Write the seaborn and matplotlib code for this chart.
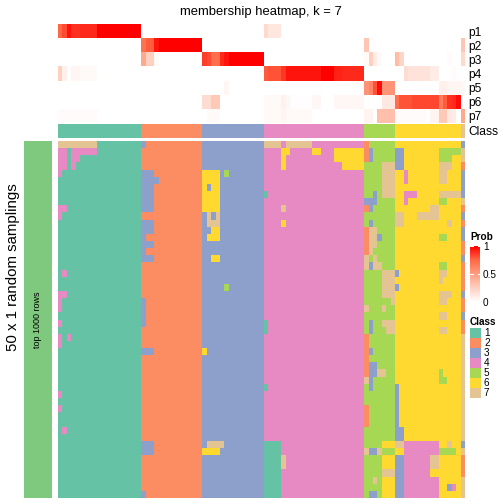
import numpy as np
import pandas as pd
import seaborn as sns
import matplotlib.pyplot as plt
from matplotlib.colors import ListedColormap, LinearSegmentedColormap
from matplotlib.patches import Rectangle

plt.rcParams["font.family"] = ["Liberation Sans", "DejaVu Sans"]

# class legend
class_names = ["1", "2", "3", "4", "5", "6", "7"]
class_colors = ["#66C2A5", "#FC8D62", "#8DA0CB", "#E78AC3", "#A6D854", "#FFD92F", "#E5C494"]

# membership probabilities, one value per sample (93 samples)
prob_rows = ["p1", "p2", "p3", "p4", "p5", "p6", "p7"]
p1 = [.75, .82, .95, .88, .88, .9, .9, .9, .9, 1, 1, 1, 1, 1, 1, 1, 1, 1, 1,
      0, 0, 0, 0, 0, 0, 0, 0, 0, 0, 0, 0, 0, 0,
      0, 0, 0, 0, 0, 0, 0, 0, 0, 0, 0, 0, 0, 0,
      .2, .13, .13, .13, 0, 0, 0, 0, 0, 0, 0, 0, 0, 0, 0, 0, 0, 0, 0, 0, 0, 0, 0,
      0, 0, 0, 0, 0, 0, 0,
      0, 0, 0, 0, 0, 0, 0, 0, 0, 0, 0, 0, 0, 0, 0,
      0]
p2 = [0, 0, 0, 0, 0, 0, 0, 0, 0, 0, 0, 0, 0, 0, 0, 0, 0, 0, 0,
      .7, .78, .78, .95, 1, 1, 1, 1, 1, 1, 1, 1, 1, 1,
      0, 0, 0, 0, 0, 0, 0, 0, 0, 0, 0, 0, 0, 0,
      0, 0, 0, 0, 0, 0, 0, 0, 0, 0, 0, 0, 0, 0, 0, 0, 0, 0, 0, 0, 0, 0, 0,
      .3, 0, 0, 0, 0, 0, 0,
      0, 0, 0, 0, 0, 0, 0, 0, 0, 0, 0, 0, 0, 0, 0,
      .3]
p3 = [0, 0, 0, 0, 0, 0, 0, 0, 0, 0, 0, 0, 0, 0, 0, 0, 0, 0, 0,
      .45, .25, .25, .03, 0, 0, 0, 0, 0, 0, 0, 0, 0, 0,
      .85, .82, .72, .72, .9, .95, 1, 1, 1, 1, 1, 1, 1, 1,
      0, 0, 0, 0, 0, 0, 0, 0, 0, 0, 0, 0, 0, 0, 0, 0, 0, 0, 0, 0, 0, 0, 0,
      .03, .25, .1, .03, 0, 0, 0,
      .35, .22, 0, 0, 0, 0, 0, 0, 0, 0, 0, 0, .02, 0, 0,
      .2]
p4 = [.25, .08, 0, .05, .05, .03, .03, .03, .03, 0, 0, 0, 0, 0, 0, 0, 0, 0, 0,
      0, 0, 0, 0, 0, 0, 0, 0, 0, 0, 0, 0, 0, 0,
      0, 0, 0, 0, 0, 0, 0, 0, 0, 0, 0, 0, 0, 0,
      .78, .8, .8, .8, .87, .95, .95, .95, .95, .95, .95, .95, .95, 1, 1, 1, .92, .92, .9, .9, .9, .9, .9,
      0, 0, 0, 0, 0, 0, 0,
      0, 0, .18, .15, .15, .15, .15, .15, .1, .1, 0, 0, 0, .02, 0,
      0]
p5 = [0, 0, 0, 0, 0, 0, 0, 0, 0, 0, 0, 0, 0, 0, 0, 0, 0, 0, 0,
      0, 0, 0, 0, 0, 0, 0, 0, 0, 0, 0, 0, 0, 0,
      0, 0, 0, 0, 0, .05, 0, 0, 0, 0, 0, 0, 0, 0,
      0, 0, 0, 0, 0, 0, 0, 0, 0, 0, 0, 0, 0, 0, 0, 0, 0, 0, 0, 0, 0, 0, 0,
      .55, .6, .8, .97, .55, .55, .55,
      0, 0, 0, 0, 0, 0, 0, 0, 0, 0, .08, .08, .05, .05, .05,
      .03]
p6 = [0, 0, 0, 0, 0, 0, 0, 0, 0, 0, 0, 0, 0, 0, 0, 0, 0, 0, 0,
      0, 0, 0, 0, 0, 0, 0, 0, 0, 0, 0, 0, 0, 0,
      .18, .18, .28, .28, 0, 0, 0, 0, 0, 0, 0, 0, 0, 0,
      .03, .03, .03, .03, .07, .04, .01, .01, .01, .01, .01, .04, .04, 0, 0, 0, .04, .04, .04, .04, .04, .04, .04,
      0, 0, 0, 0, .12, .12, .12,
      .72, .8, .8, .8, .83, .83, .83, .83, .83, .83, .65, .78, .88, .9, .97,
      0]
p7 = [.02, .02, .02, .02, .02, .02, .02, .02, .02, 0, 0, 0, 0, 0, 0, 0, 0, 0, 0,
      0, 0, 0, 0, 0, 0, 0, 0, 0, 0, 0, 0, 0, 0,
      0, .03, .03, .03, 0, 0, 0, 0, 0, 0, 0, 0, 0, 0,
      .03, .03, .03, .03, .05, .03, .03, .03, .03, .03, .03, 0, 0, 0, 0, 0, 0, 0, 0, 0, 0, 0, 0,
      .06, .06, 0, .33, .33, .33, .33,
      .02, .02, .02, .02, .02, .02, .02, 0, .06, .06, .28, .28, .12, .1, 0,
      .45]

# predicted class of every sample
col_class = ("1111111111111111111" "22222222222222" "33333333333333"
             "44444444444444444444444" "5555555" "666666666666666" "7")

# class label of every sample in each of the 50 random samplings
samplings = [
    "7777777771111111111 32222222222222 33333333333333 77774777777444444444444 2555555 666666666666666 3",
    "4414444441111111111 22222222222222 33333333333333 44446644444664446666666 2355555 336666666655555 7",
    "4414411111111111111 22222222222222 33333333333333 44446444444444446666666 2355555 336666666655566 7",
    "4414111111111111111 22222222222222 33333333333333 44446444444444444466666 5555777 336666666677766 2",
    "4111111111111111111 33322222222222 66663533333333 44444444444444444444444 5555777 664666666677666 3",
    "1111111111111111111 33332222222222 66663333333333 44444444444444444444444 5555777 664666666677666 3",
    "1111111111111111111 33322222222222 63663333333333 44444444444444444444444 5555777 666666666666666 3",
    "1111111111111111111 33322222222222 66663333333333 14444444444444444444444 5535777 664446666677777 3",
    "1111111111111111111 33322222222222 66663333333333 44444444444444444444444 3335555 664666666655666 7",
    "4411111111111111111 33322222222222 66663333333333 44447444444444444444444 2355555 666666667766666 2",
    "4111111111111111111 22222222222222 37373333333333 44444444444444444444444 5555555 776667777766666 3",
    "1111111111111111111 33322222222222 37773333333333 44446444444444444444444 5355555 776666666666766 2",
    "1111111111111111111 33322222222222 33663333333333 44444444444444444444444 2775555 666666666666666 3",
    "1111111111111111111 32222222222222 36663333333333 44444444444444444444444 2773555 666666666655666 3",
    "1111111111111111111 33322222222222 33333333333333 44444444444444444444444 2775555 666666666666666 2",
    "1111111111111111111 32222222222222 33333333333333 44444444444444444444444 2755555 666666666666666 2",
    "1111111111111111111 33322222222222 33663333333333 44444444444444444444444 7575555 666666666666666 3",
    "1111111111111111111 22222222222222 33333333333333 44444444444444444444444 7377555 666666666655666 2",
    "1411111111111111111 22222222222222 33333333333333 44444444444444444444444 5555777 366666666677666 2",
    "1111111111111111111 22222222222222 33333333333333 44444444444444444444444 5555777 666666666676666 2",
    "1111111111111111111 22222222222222 33333533333333 44444444444444444444444 5555777 366666666666666 2",
    "4411111111111111111 22222222222222 33333333333333 44444444444444444444444 5555777 666666666677766 3",
    "4111111111111111111 32222222222222 33333333333333 44444444444444444444444 5555557 666666666677666 2",
    "4111111111111111111 32222222222222 33333333333333 44444444444444444444444 7555755 666666666666666 2",
    "1111111111111111111 32222222222222 33333333333333 44444444444444444444444 5555555 666666666677666 3",
    "4111111111111111111 32222222222222 33333333333333 14444444444444444444444 5355777 666666666666666 2",
    "1111111111111111111 22222222222222 33333333333333 14444444444444444444444 5355577 666666666677666 2",
    "4141111111111111111 22222222222222 33333333333333 44444444444444444444444 2555555 666666666666666 7",
    "4111111111111111111 22222222222222 33333333333333 44444444444444444444444 2555555 666666666666666 7",
    "1111111111111111111 33322222222222 63333333333333 44444444444444444444444 2355555 666666666666666 7",
    "1111111111111111111 22222222222222 33333333333333 44444444444444444444444 2555555 666666666666666 7",
    "1111111111111111111 22222222222222 33333333333333 44444444444444444444444 2335555 666666666666666 7",
    "1111111111111111111 22222222222222 33333333333333 44444444444444444444444 2337755 666666666656666 7",
    "1111111111111111111 22222222222222 33333333333333 44444444444444444444444 7355555 666666666655666 7",
    "1111111111111111111 22222222222222 33333333333333 14444444444444444444444 5355555 366666666666666 7",
    "4111111111111111111 22222222222222 33333333333333 44444444444444444444444 5555555 366666666666666 7",
    "1111111111111111111 22222222222222 33333333333333 44444444444444444444444 5555555 366666666666666 7",
    "4111111111111111111 22222222222222 33333333333333 44444444444444444444444 2555555 366666666666666 7",
    "1111111111111111111 22222222222222 33333333333333 44444444444444444444444 2555555 366666666666666 7",
    "1111111111111111111 22222222222222 33333333333333 44444444444444444444444 2555555 366666666666666 7",
    "1411111111111111111 22222222222222 33333333333333 44444444444444444444444 5555555 336666666666666 7",
    "1111111111111111111 22222222222222 33333333333333 44444444444444444444444 5555555 336666666666666 7",
    "1111111111111111111 33322222222222 37777333333333 11114444444444444444444 5555666 774444444466766 3",
    "1111111111111111111 33322222222222 66663333333333 11114444444444444444444 7337555 664444444455556 7",
    "1111111111111111111 22222222222222 33333333333333 11117444444444444444444 5555666 334444447766666 2",
    "1111111111111111111 22222222222222 33333333333333 11117444444444444444444 5555666 334444447766666 2",
    "1111111111111111111 22222222222222 33333333333333 11114444444444444444444 5555777 334444446666666 2",
    "1111111111111111111 22222222222222 33333333333333 11114444444444444444444 5575666 334444444466666 7",
    "1111111111111111111 22222222222222 33333333333333 11114444444444444444444 5555666 334444444466346 7",
    "1111111111111111111 32222222222222 33333333333333 11114444444444444444444 5335666 334444444466666 7",
]

W = H = 504


def box(x0, y0, x1, y1):
    # pixel box (from top left) -> figure fraction rect
    return [x0 / W, 1 - y1 / H, (x1 - x0) / W, (y1 - y0) / H]


sample_matrix = np.array([[int(c) for c in row.replace(" ", "")] for row in samplings])
class_row = np.array([[int(c) for c in col_class]])
prob_df = pd.DataFrame([p1, p2, p3, p4, p5, p6, p7], index=prob_rows)

prob_cmap = LinearSegmentedColormap.from_list(
    "prob", [(0, "#FFFFFF"), (0.25, "#FFCFBF"), (0.5, "#FF9E81"),
             (0.75, "#FF6846"), (1, "#FF0000")])
class_cmap = ListedColormap(class_colors)

fig = plt.figure(figsize=(7, 7), dpi=72)

# membership heatmap
ax_p = fig.add_axes(box(58, 24, 465, 123))
sns.heatmap(prob_df, ax=ax_p, cmap=prob_cmap, vmin=0, vmax=1, cbar=False,
            xticklabels=False, yticklabels=True)
ax_p.yaxis.tick_right()
ax_p.tick_params(axis="y", length=0, labelsize=12, pad=3)
plt.setp(ax_p.get_yticklabels(), rotation=0)

# class annotation
ax_c = fig.add_axes(box(58, 123.5, 465, 138))
sns.heatmap(pd.DataFrame(class_row, index=["Class"]), ax=ax_c, cmap=class_cmap,
            vmin=0.5, vmax=7.5, cbar=False, xticklabels=False, yticklabels=True)
ax_c.yaxis.tick_right()
ax_c.tick_params(axis="y", length=0, labelsize=12, pad=3)
plt.setp(ax_c.get_yticklabels(), rotation=0)

# random samplings
ax_m = fig.add_axes(box(58, 141, 465, 498))
sns.heatmap(sample_matrix, ax=ax_m, cmap=class_cmap, vmin=0.5, vmax=7.5,
            cbar=False, xticklabels=False, yticklabels=False)

# row split annotation
ax_l = fig.add_axes(box(24, 141, 52, 498))
sns.heatmap([[0]], ax=ax_l, cmap=ListedColormap(["#7FC97F"]), cbar=False,
            xticklabels=False, yticklabels=False)
ax_l.text(0.5, 0.5, "top 1000 rows", rotation=90, transform=ax_l.transAxes,
          ha="center", va="center", fontsize=9)

fig.text(261 / W, 1 - 12 / H, "membership heatmap, k = 7", ha="center",
         va="center", fontsize=13)
fig.text(13 / W, 1 - 267 / H, "50 x 1 random samplings", rotation=90,
         ha="center", va="center", fontsize=15)

# Prob legend
fig.text(470 / W, 1 - 237 / H, "Prob", fontweight="bold", fontsize=10,
         ha="left", va="center")
cax = fig.add_axes(box(470, 246, 480, 302))
cb = fig.colorbar(ax_p.collections[0], cax=cax, ticks=[0, 0.5, 1])
cb.outline.set_visible(False)
cb.set_ticklabels(["0", "0.5", "1"])
cax.tick_params(length=0, labelsize=10, pad=3)
for v in [0.5, 1]:
    cax.axhline(v, xmin=0, xmax=0.25, color="white", lw=1)
    cax.axhline(v, xmin=0.75, xmax=1, color="white", lw=1)

# Class legend
fig.text(470 / W, 1 - 322 / H, "Class", fontweight="bold", fontsize=10,
         ha="left", va="center")
for i, (name, color) in enumerate(zip(class_names, class_colors)):
    y0 = 328 + 10 * i
    fig.patches.append(Rectangle((470 / W, 1 - (y0 + 10) / H), 11 / W, 10 / H,
                                 facecolor=color, edgecolor="none",
                                 transform=fig.transFigure, figure=fig))
    fig.text(484 / W, 1 - (y0 + 5) / H, name, fontsize=10, ha="left", va="center")

fig.savefig("out.png", dpi=72)
